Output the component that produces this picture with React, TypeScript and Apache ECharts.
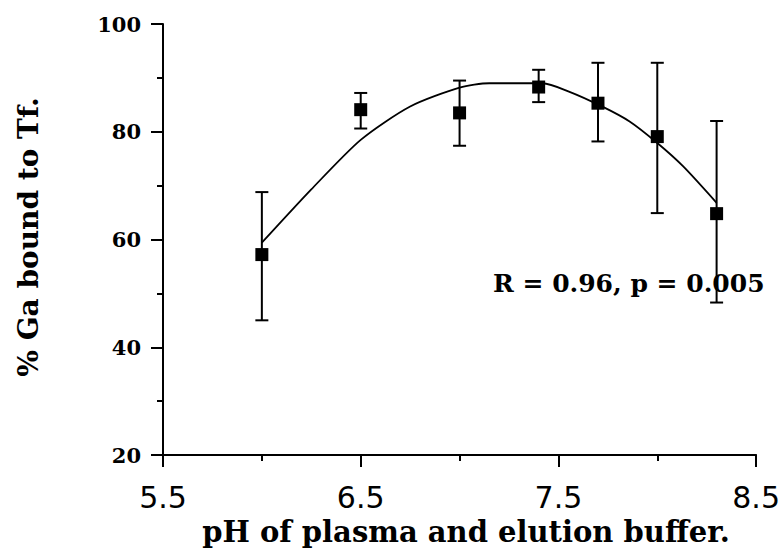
import React, { useEffect, useRef } from "react";
import * as echarts from "echarts";

// Measured points (pH, mean % Ga bound to Tf, error bar top/bottom)
const phValues = [6.0, 6.5, 7.0, 7.4, 7.7, 8.0, 8.3];
const meanValues = [57.2, 84.1, 83.5, 88.3, 85.3, 79.1, 64.8];
const upperValues = [68.8, 87.2, 89.5, 91.5, 92.8, 92.8, 82.0];
const lowerValues = [45.0, 80.6, 77.4, 85.5, 78.2, 64.9, 48.3];

// Fitted curve
const curvePh = [6.0, 6.25, 6.5, 6.75, 7.0, 7.15, 7.42, 7.55, 7.72, 7.86, 8.0, 8.13, 8.3];
const curveValues = [59.4, 69.3, 78.5, 84.7, 88.2, 89.0, 89.0, 87.5, 84.7, 81.9, 77.9, 73.6, 66.8];

// Axis ticks
const xMajorTicks = [5.5, 6.5, 7.5, 8.5];
const xMinorTicks = [6.0, 7.0, 8.0];

const xTitle = "pH of plasma and elution buffer.";
const yTitle = "% Ga bound to Tf.";
const statText = "R = 0.96, p = 0.005";

export default function App() {
  const ref = useRef<HTMLDivElement>(null);
  useEffect(() => {
    if (!ref.current) return;
    const chart = echarts.init(ref.current, null, { renderer: "svg" });
    const serif = "DejaVu Serif";
    const points = phValues.map((x, i) => [x, meanValues[i]]);
    const bars = phValues.map((x, i) => [x, lowerValues[i], upperValues[i]]);
    const curve = curvePh.map((x, i) => [x, curveValues[i]]);
    chart.setOption({
      animation: false,
      backgroundColor: "#ffffff",
      grid: { left: 163, right: 26, top: 24, bottom: 96 },
      xAxis: [
        {
          type: "value",
          min: 5.5,
          max: 8.5,
          interval: 0.5,
          axisLine: { show: true, onZero: false, lineStyle: { color: "#000", width: 2 } },
          axisTick: { show: true, customValues: xMajorTicks, length: 12, lineStyle: { color: "#000", width: 2 } },
          axisLabel: {
            show: true,
            customValues: xMajorTicks,
            formatter: (v: number) => v.toFixed(1),
            fontFamily: "DejaVu Sans",
            fontSize: 30,
            color: "#000",
            margin: 27,
          },
          splitLine: { show: false },
        },
        {
          type: "value",
          min: 5.5,
          max: 8.5,
          interval: 0.5,
          position: "bottom",
          axisLine: { show: false, onZero: false },
          axisTick: { show: true, customValues: xMinorTicks, length: 6, lineStyle: { color: "#000", width: 2 } },
          axisLabel: { show: false },
          splitLine: { show: false },
        },
      ],
      yAxis: {
        type: "value",
        min: 20,
        max: 100,
        interval: 20,
        axisLine: { show: true, onZero: false, lineStyle: { color: "#000", width: 2 } },
        axisTick: { show: true, length: 12, lineStyle: { color: "#000", width: 2 } },
        minorTick: { show: true, splitNumber: 2, length: 6, lineStyle: { color: "#000", width: 2 } },
        axisLabel: {
          fontFamily: serif,
          fontWeight: "bold",
          fontSize: 21,
          color: "#000",
          margin: 22,
        },
        splitLine: { show: false },
      },
      series: [
        {
          type: "line",
          data: curve,
          smooth: 0.25,
          showSymbol: false,
          symbol: "none",
          lineStyle: { color: "#000", width: 1.8 },
          z: 2,
        },
        {
          type: "custom",
          data: bars,
          renderItem: (params: any, api: any) => {
            const x = api.value(0);
            const top = api.coord([x, api.value(2)]);
            const bot = api.coord([x, api.value(1)]);
            const hw = 6.5;
            const style = { stroke: "#000", lineWidth: 2, fill: "none" };
            return {
              type: "group",
              children: [
                { type: "line", shape: { x1: top[0], y1: top[1], x2: bot[0], y2: bot[1] }, style },
                { type: "line", shape: { x1: top[0] - hw, y1: top[1], x2: top[0] + hw, y2: top[1] }, style },
                { type: "line", shape: { x1: bot[0] - hw, y1: bot[1], x2: bot[0] + hw, y2: bot[1] }, style },
              ],
            };
          },
          z: 3,
        },
        {
          type: "scatter",
          data: points,
          symbol: "rect",
          symbolSize: 13,
          itemStyle: { color: "#000", opacity: 1 },
          z: 4,
        },
      ],
      graphic: [
        {
          type: "text",
          x: 493,
          y: 283,
          style: {
            text: statText,
            fontFamily: serif,
            fontWeight: "bold",
            fontSize: 25,
            fill: "#000",
            textAlign: "left",
            textVerticalAlign: "middle",
          },
        },
        {
          type: "text",
          x: 466,
          y: 532,
          style: {
            text: xTitle,
            fontFamily: serif,
            fontWeight: "bold",
            fontSize: 29,
            fill: "#000",
            textAlign: "center",
            textVerticalAlign: "middle",
          },
        },
        {
          type: "text",
          x: 28,
          y: 237,
          rotation: Math.PI / 2,
          style: {
            text: yTitle,
            fontFamily: serif,
            fontWeight: "bold",
            fontSize: 28,
            fill: "#000",
            textAlign: "center",
            textVerticalAlign: "middle",
          },
        },
      ],
    });
    return () => chart.dispose();
  }, []);
  return <div ref={ref} style={{ width: 783, height: 551, position: "fixed", left: 0, top: 0 }} />;
}
